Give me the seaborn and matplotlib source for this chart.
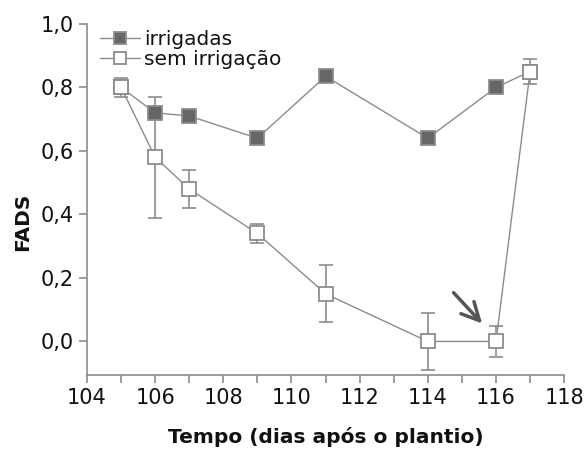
import matplotlib
matplotlib.use('Agg')
import matplotlib.pyplot as plt
import seaborn as sns
import pandas as pd
from matplotlib.ticker import FuncFormatter, MultipleLocator

# data
dias = [105, 106, 107, 109, 111, 114, 116, 117]
irrigadas = [0.80, 0.72, 0.71, 0.64, 0.835, 0.64, 0.80, 0.85]
irrigadas_err = [0.0, 0.0, 0.0, 0.0, 0.0, 0.0, 0.0, 0.0]
sem_irrigacao = [0.80, 0.58, 0.48, 0.34, 0.15, 0.0, 0.0, 0.85]
sem_irrigacao_err = [0.03, 0.19, 0.06, 0.03, 0.09, 0.09, 0.05, 0.04]

sns.set_style('ticks')
plt.rcParams['font.family'] = ['DejaVu Sans']

df = pd.DataFrame({'dia': dias, 'irrigadas': irrigadas, 'sem irrigação': sem_irrigacao})

fig, ax = plt.subplots(figsize=(5.84, 4.51), dpi=100)
fig.subplots_adjust(left=0.149, right=0.966, top=0.947, bottom=0.169)

cinza = '#8c8c8c'
for col, err, face in [('irrigadas', irrigadas_err, '#666666'),
                       ('sem irrigação', sem_irrigacao_err, 'white')]:
    ax.errorbar(df['dia'], df[col], yerr=err, fmt='none', ecolor=cinza,
                elinewidth=1.2, capsize=5, capthick=1.2, zorder=2)
    sns.lineplot(data=df, x='dia', y=col, ax=ax, color=cinza, linewidth=1.0,
                 marker='s', markersize=10, markerfacecolor=face,
                 markeredgecolor=cinza, markeredgewidth=1.3, label=col, zorder=3)

ax.annotate('', xy=(115.65, 0.05), xytext=(114.7, 0.16),
            arrowprops=dict(arrowstyle='->', color='#555555', lw=2.5,
                            mutation_scale=32))

ax.set_xlim(104, 118)
ax.set_ylim(-0.105, 1.0)
ax.xaxis.set_major_locator(MultipleLocator(2))
ax.xaxis.set_minor_locator(MultipleLocator(1))
ax.yaxis.set_major_locator(MultipleLocator(0.2))
ax.yaxis.set_major_formatter(FuncFormatter(lambda v, p: f'{v:.1f}'.replace('.', ',').replace('-0,0', '0,0')))
ax.tick_params(axis='both', which='major', labelsize=15, length=6, width=1.2,
               color=cinza, labelcolor='#111111')
ax.tick_params(axis='x', which='minor', length=6, width=1.2, color=cinza)
for s in ['left', 'bottom']:
    ax.spines[s].set_color(cinza)
    ax.spines[s].set_linewidth(1.2)
sns.despine(ax=ax)

ax.set_xlabel('Tempo (dias após o plantio)', fontsize=14.5, fontweight='bold',
              labelpad=14, color='#111111')
ax.set_ylabel('FADS', fontsize=14.5, fontweight='bold', color='#111111')
ax.yaxis.set_label_coords(-0.115, 0.436)

leg = ax.legend(loc='upper left', frameon=False, fontsize=14.5, handlelength=2.0,
                handletextpad=0.2, borderaxespad=0.0, labelspacing=0.05,
                markerscale=0.8, bbox_to_anchor=(0.01, 1.005))
for t in leg.get_texts():
    t.set_color('#111111')

fig.savefig('out.png', dpi=100)
